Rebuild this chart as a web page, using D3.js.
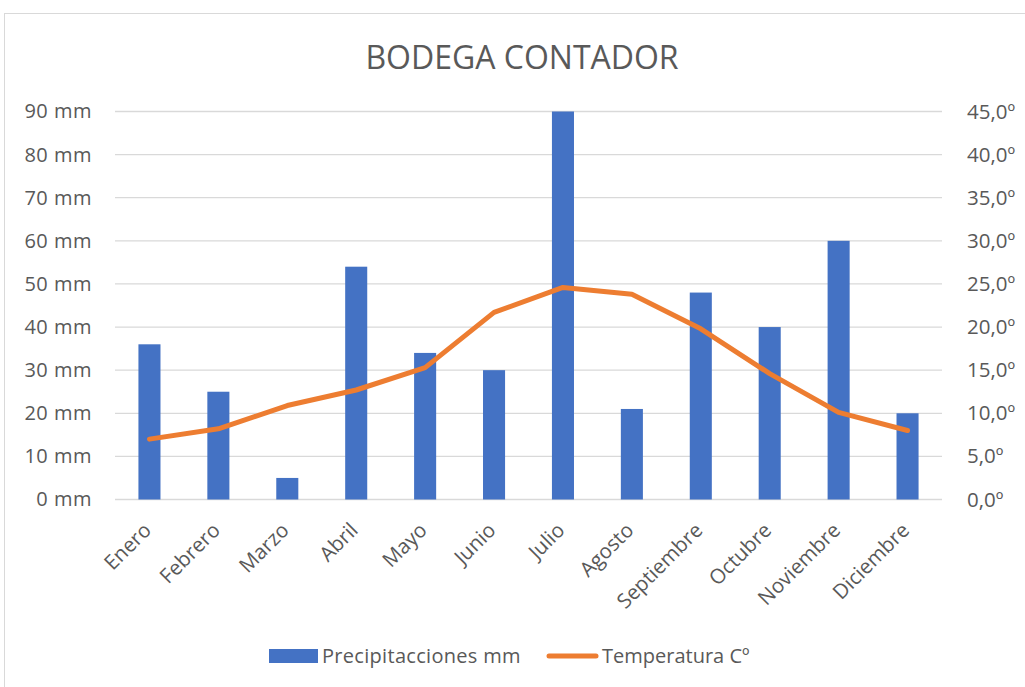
<!DOCTYPE html>
<html>
<head>
<meta charset="utf-8">
<script src="https://cdn.jsdelivr.net/npm/d3@7"></script>
<style>
body { margin: 0; background: #fff; }
text { font-family: "Open Sans", sans-serif; fill: #595959; }
</style>
</head>
<body>
<svg width="1025" height="687"></svg>
<script>
var svg = d3.select("svg"),
width = +svg.attr("width"),
height = +svg.attr("height");

var months = ["Enero","Febrero","Marzo","Abril","Mayo","Junio","Julio","Agosto","Septiembre","Octubre","Noviembre","Diciembre"];
var precip = [36, 25, 5, 54, 34, 30, 90, 21, 48, 40, 60, 20];
var temp = [7.0, 8.2, 10.9, 12.7, 15.3, 21.7, 24.6, 23.8, 19.8, 14.6, 10.1, 8.0];
var precipTicks = [0,10,20,30,40,50,60,70,80,90];
var tempTicks = [0,5,10,15,20,25,30,35,40,45];

var m = {left: 115, right: 942, top: 111.5, bottom: 499.5};

// chart border
svg.append("rect")
  .attr("x", 4.5).attr("y", 13.5)
  .attr("width", 1030).attr("height", 700)
  .attr("fill", "none").attr("stroke", "#d9d9d9");

svg.append("text")
  .attr("x", 522).attr("y", 69)
  .attr("text-anchor", "middle")
  .style("font-size", "32px")
  .text("BODEGA CONTADOR");

var x = d3.scaleBand().domain(months).range([m.left, m.right]).paddingInner(0.68).paddingOuter(0.34);
var y = d3.scaleLinear().domain([0, 90]).range([m.bottom, m.top]);
var y2 = d3.scaleLinear().domain([0, 45]).range([m.bottom, m.top]);

// gridlines
svg.append("g")
  .selectAll("line")
  .data(precipTicks)
  .enter().append("line")
  .attr("x1", m.left).attr("x2", m.right)
  .attr("y1", d => y(d)).attr("y2", d => y(d))
  .attr("stroke", "#d9d9d9").attr("stroke-width", 1.3);

// left axis
var yAxis = d3.axisLeft(y).tickValues(precipTicks).tickSize(0).tickPadding(23)
  .tickFormat(d => d + " mm");
svg.append("g")
  .attr("transform", `translate(${m.left},0)`)
  .call(yAxis)
  .call(g => g.select(".domain").remove())
  .selectAll("text")
  .style("font-size", "20px")
  .style("letter-spacing", "0.5px")
  .attr("fill", "#595959");

// right axis
var y2Axis = d3.axisRight(y2).tickValues(tempTicks).tickSize(0).tickPadding(25)
  .tickFormat(d => d3.format(".1f")(d).replace(".", ",") + "º");
svg.append("g")
  .attr("transform", `translate(${m.right},0)`)
  .call(y2Axis)
  .call(g => g.select(".domain").remove())
  .selectAll("text")
  .style("font-size", "20.5px")
  .attr("fill", "#595959");

// bars
svg.append("g")
  .selectAll("rect")
  .data(precip)
  .enter().append("rect")
  .attr("x", (d, i) => x(months[i]))
  .attr("width", x.bandwidth())
  .attr("y", d => y(d))
  .attr("height", d => y(0) - y(d))
  .attr("fill", "#4472c4");

// x labels
var xc = d => x(d) + x.bandwidth() / 2;
svg.append("g")
  .selectAll("text")
  .data(months)
  .enter().append("text")
  .attr("transform", d => `translate(${xc(d) + 3},${m.bottom + 32}) rotate(-45)`)
  .attr("text-anchor", "end")
  .style("font-size", "20.5px")
  .text(d => d);

// line
var line = d3.line()
  .x((d, i) => xc(months[i]))
  .y(d => y2(d));
svg.append("path")
  .datum(temp)
  .attr("d", line)
  .attr("fill", "none")
  .attr("stroke", "#ed7d31")
  .attr("stroke-width", 5)
  .attr("stroke-linecap", "round")
  .attr("stroke-linejoin", "round");

// LEGEND
var legend = svg.append("g");
legend.append("rect")
  .attr("x", 269).attr("y", 649).attr("width", 49).attr("height", 14)
  .attr("fill", "#4472c4");
legend.append("text")
  .attr("x", 322).attr("y", 663)
  .style("font-size", "20px")
  .style("letter-spacing", "0.3px")
  .text("Precipitacciones mm");
legend.append("line")
  .attr("x1", 549).attr("x2", 596).attr("y1", 656).attr("y2", 656)
  .attr("stroke", "#ed7d31").attr("stroke-width", 5).attr("stroke-linecap", "round");
legend.append("text")
  .attr("x", 602).attr("y", 663)
  .style("font-size", "20px")
  .text("Temperatura Cº");
</script>
</body>
</html>
